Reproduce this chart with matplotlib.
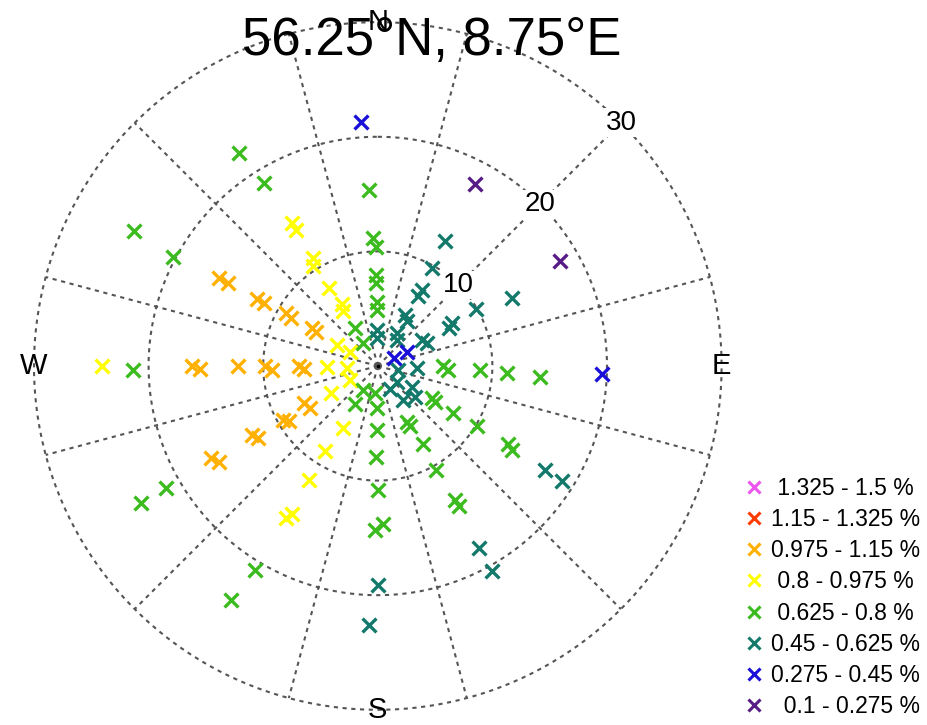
import numpy as np
import matplotlib.pyplot as plt
from matplotlib.lines import Line2D

plt.rcParams['font.family'] = ['Liberation Sans', 'DejaVu Sans']

title = "56.25\u00b0N, 8.75\u00b0E"

# direction (deg from north, clockwise) and radius for each class
purple_dir = [28, 60]
purple_spd = [18.0, 18.4]

blue_dir = [356, 92, 65, 64]
blue_spd = [21.3, 19.6, 1.6, 2.8]

teal_dir = [28, 29, 30, 30, 60, 63, 28, 33, 60, 62, 358, 358, 30, 36, 60, 65,
            101, 93, 130, 153, 122, 130, 144, 122, 122, 151, 151, 180, 182]
teal_spd = [12.4, 9.8, 7.7, 7.1, 9.9, 13.1, 5.0, 4.7, 7.5, 7.0, 3.1, 2.4, 3.3, 2.8, 4.5, 4.7,
            1.8, 3.4, 2.2, 2.3, 3.5, 4.2, 3.7, 17.2, 19.0, 18.2, 20.5, 19.1, 22.6]

green_dir = [327, 328, 357, 299, 298, 358, 359, 359, 359, 359, 359, 329, 327, 269,
             90, 93, 92, 93, 94, 212, 186, 211, 181, 121, 122, 122, 121,
             152, 152, 181, 150, 181, 151, 121, 122, 180, 181, 178, 150, 150,
             240, 240, 211, 212]
green_spd = [22.2, 18.8, 15.4, 24.3, 20.2, 11.2, 10.4, 7.9, 7.2, 5.6, 4.9, 3.9, 2.4, 21.4,
             5.7, 6.1, 8.9, 11.3, 14.2, 2.5, 2.4, 3.9, 3.7, 5.5, 5.9, 7.7, 10.1,
             5.5, 5.9, 5.6, 7.9, 7.9, 10.4, 13.3, 13.8, 10.8, 14.3, 13.8, 13.5, 14.1,
             21.3, 23.9, 20.8, 24.1]

yellow_dir = [329, 329, 329, 327, 328, 330, 328, 297, 297, 269, 266, 270,
              243, 240, 209, 212, 211, 211, 210]
yellow_spd = [14.6, 13.8, 11.0, 10.4, 8.0, 6.2, 5.7, 4.0, 2.7, 4.4, 2.7, 24.1,
              2.7, 4.7, 6.2, 8.7, 11.6, 15.5, 14.9]

orange_dir = [299, 299, 299, 299, 300, 299, 300, 299,
              270, 269, 270, 270, 268, 270, 268,
              243, 238, 240, 238, 241, 239, 241, 239]
orange_spd = [15.8, 14.9, 12.1, 11.4, 9.2, 8.7, 6.6, 6.2,
              16.2, 15.5, 12.2, 9.8, 9.2, 6.9, 6.4,
              7.2, 7.0, 9.5, 9.1, 12.5, 12.2, 16.6, 16.2]

red_dir, red_spd = [], []
magenta_dir, magenta_spd = [], []

class_labels = [" 1.325 - 1.5 %", "1.15 - 1.325 %", "0.975 - 1.15 %", " 0.8 - 0.975 %",
                " 0.625 - 0.8 %", "0.45 - 0.625 %", "0.275 - 0.45 %", "  0.1 - 0.275 %"]
class_colors = ['#ee55ee', '#ff3c00', '#ffb000', '#ffff00',
                '#3cbb1e', '#13796a', '#1a10d8', '#581c86']
class_data = [(magenta_dir, magenta_spd), (red_dir, red_spd), (orange_dir, orange_spd),
              (yellow_dir, yellow_spd), (green_dir, green_spd), (teal_dir, teal_spd),
              (blue_dir, blue_spd), (purple_dir, purple_spd)]

rings = [10, 20, 30]
compass = {'N': 0, 'E': 90, 'S': 180, 'W': 270}

fig = plt.figure(figsize=(9.28, 7.25), dpi=100)
ax = fig.add_axes([0.0366, 0.0207, 0.741, 0.949], projection='polar')
ax.set_theta_zero_location('N')
ax.set_theta_direction(-1)
ax.set_ylim(0, 30)
ax.grid(False)
ax.set_xticks([])
ax.set_yticks([])
ax.spines['polar'].set_visible(False)

# dotted rings and sector spokes
grid_kw = dict(color='#555555', lw=1.5, linestyle=(0, (2, 2.2)), zorder=1, clip_on=False)
th = np.linspace(0, 2 * np.pi, 400)
for r in rings:
    ax.plot(th, np.full_like(th, r), **grid_kw)
for a in np.arange(15, 360, 30):
    ax.plot([np.radians(a)] * 2, [0, 30], **grid_kw)
ax.plot([0], [0], 'k.', ms=3, zorder=2)

for r in rings:
    ax.text(np.radians(45), r, str(r), fontsize=20, ha='center', va='center', zorder=3,
            bbox=dict(boxstyle='square,pad=0.05', fc='white', ec='none'))
for lab, a in compass.items():
    ax.text(np.radians(a), 30, lab, fontsize=21, ha='center', va='center', zorder=3,
            clip_on=False)

for (d, s), col in zip(class_data, class_colors):
    if len(d):
        ax.scatter(np.radians(d), s, marker='x', s=100, c=col, linewidths=2.4, zorder=4)

fig.text(0.465, 0.924, title, fontsize=38, ha='center', va='baseline', zorder=10)

handles = [Line2D([], [], ls='none', marker='x', color=c, ms=8, mew=2.2) for c in class_colors]
fig.legend(handles, class_labels, loc='lower left', bbox_to_anchor=(0.785, -0.013),
           frameon=False, fontsize=16.5, handlelength=0.8, handletextpad=0.35,
           labelspacing=0.36, borderpad=0.2)

fig.savefig('out.png', dpi=100)
